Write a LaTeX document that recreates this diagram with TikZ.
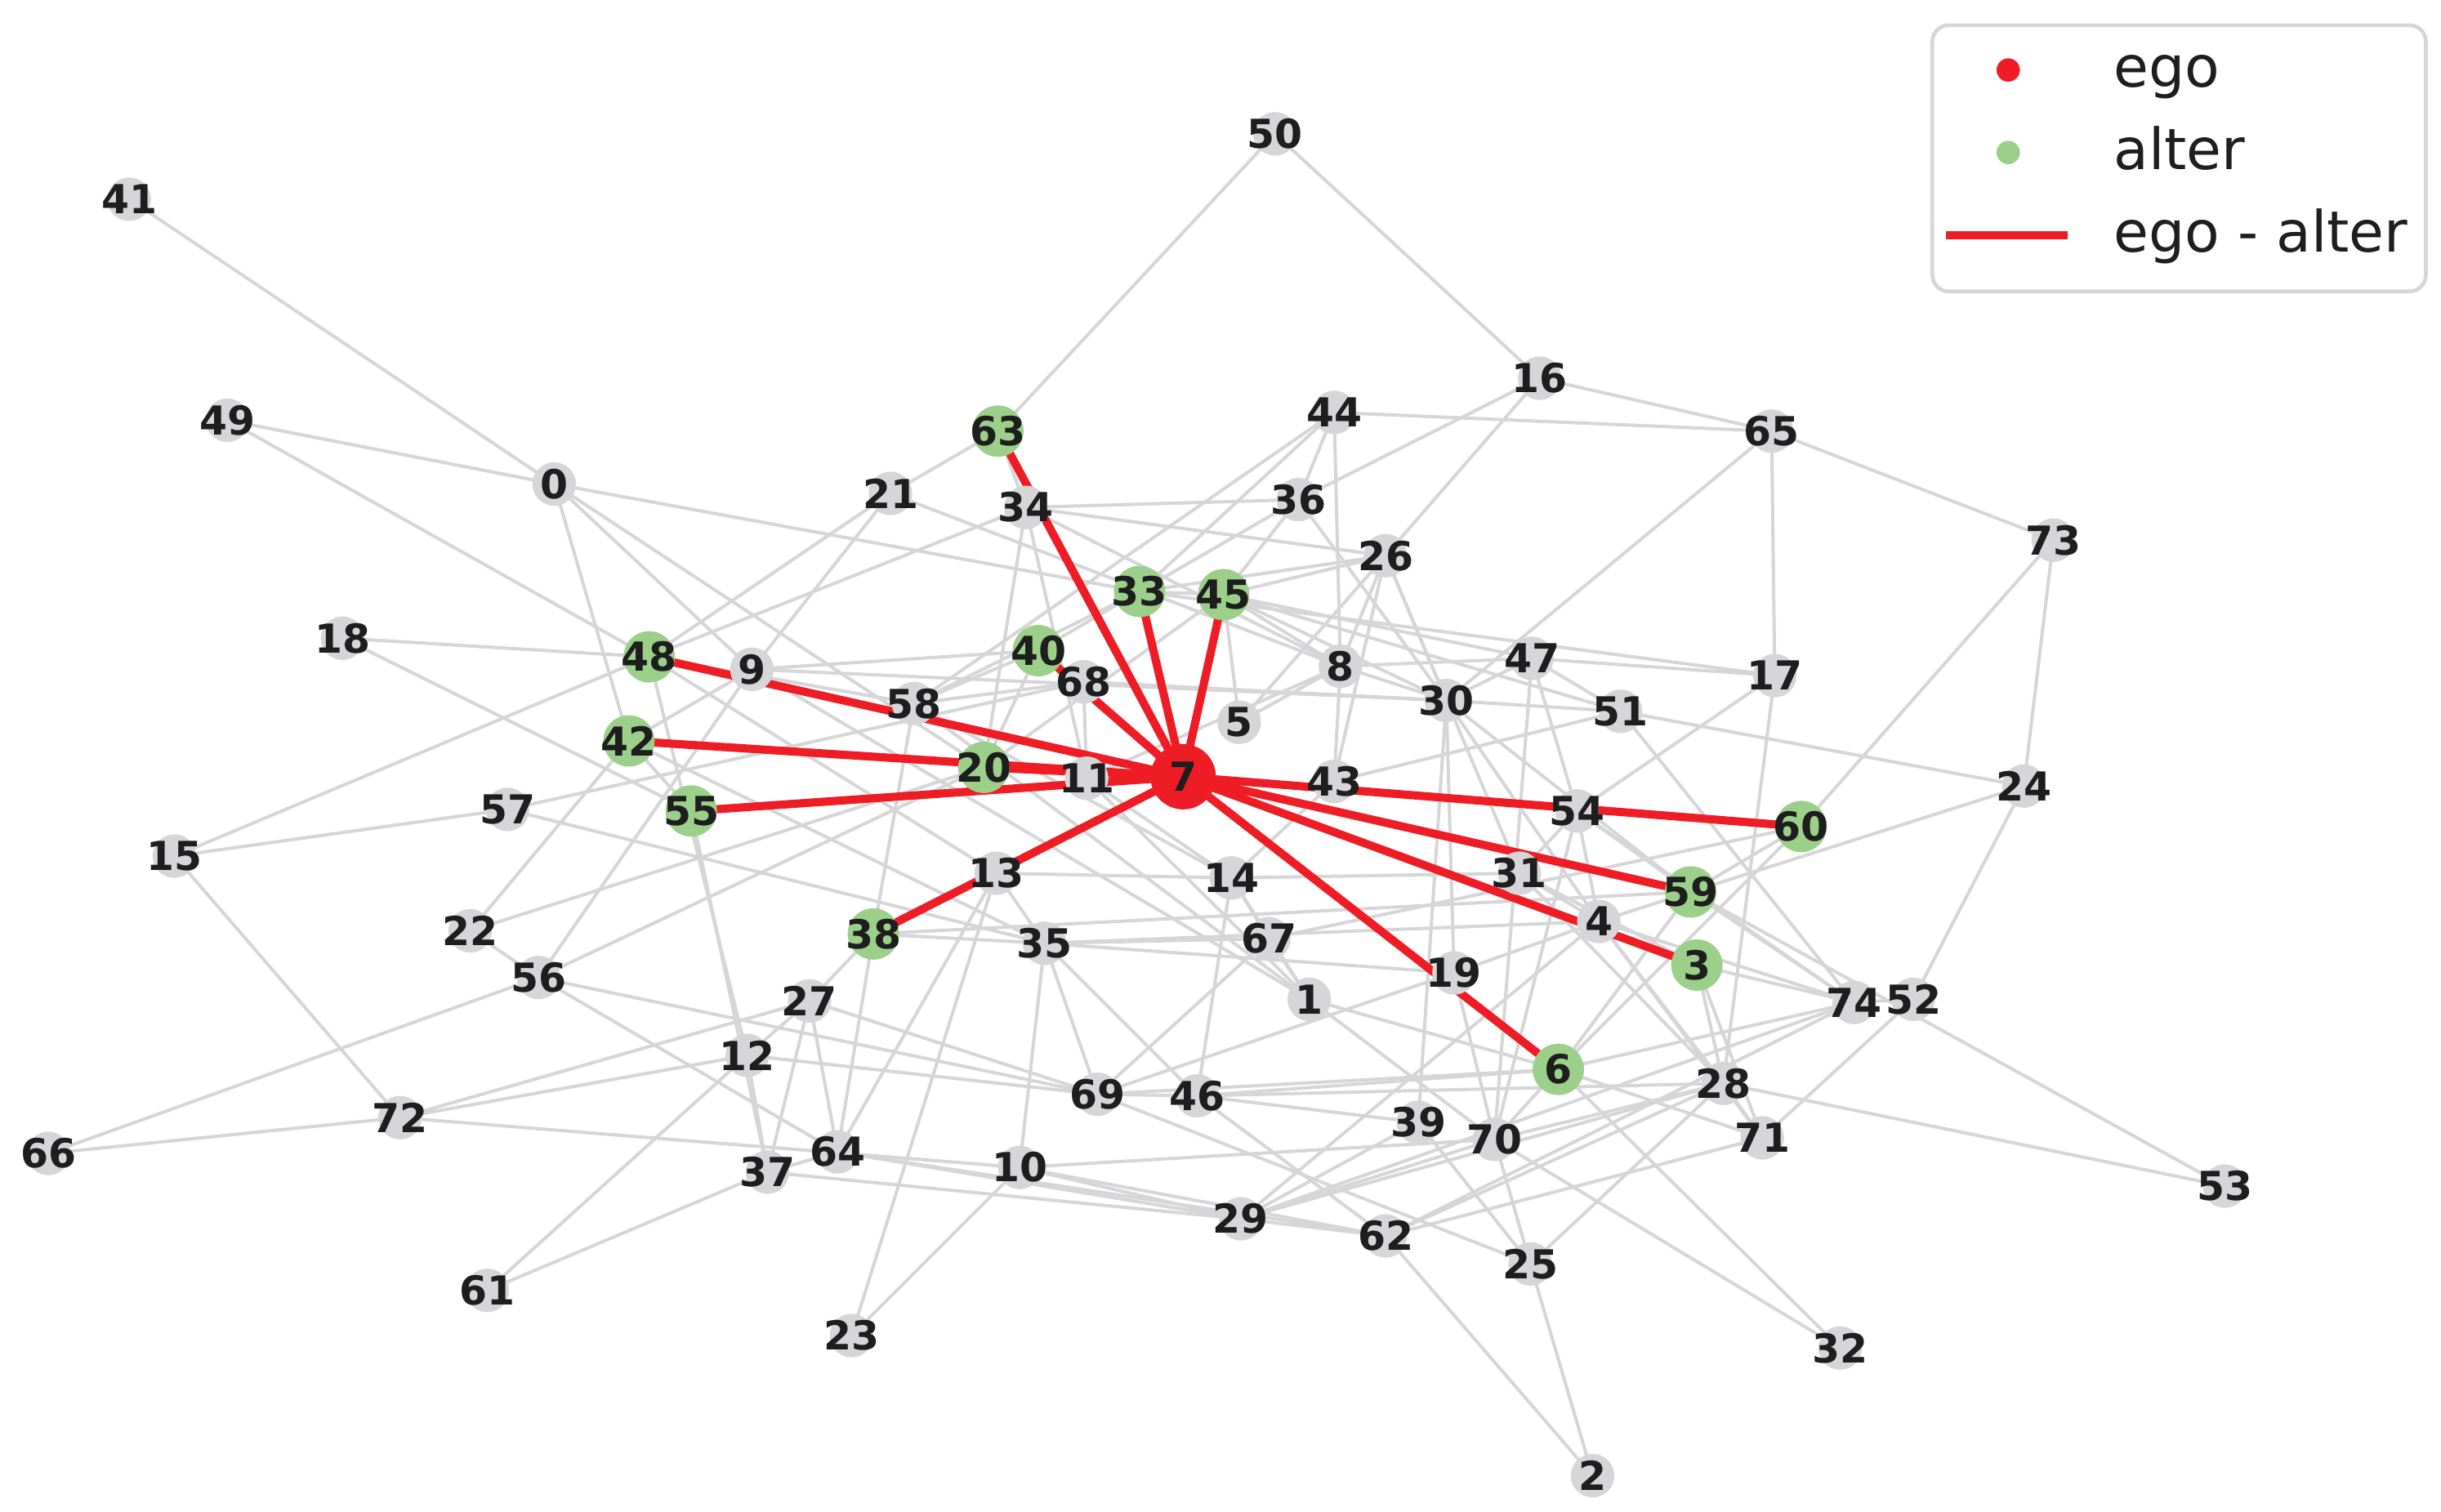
\documentclass[tikz,border=0pt]{standalone}
\usepackage{fontspec}
\setmainfont{DejaVu Sans}
\definecolor{edgegray}{HTML}{D6D6D8}
\definecolor{nodegray}{HTML}{D6D6D8}
\definecolor{egored}{HTML}{EE1D25}
\definecolor{altgreen}{HTML}{9CD08A}
\definecolor{labcol}{HTML}{1E1E1E}
\tikzset{
  gnode/.style={circle,fill=nodegray,minimum size=0.28cm,inner sep=0pt},
  anode/.style={circle,fill=altgreen,minimum size=0.33cm,inner sep=0pt},
  enode/.style={circle,fill=egored,minimum size=0.42cm,inner sep=0pt},
  lab/.style={inner sep=0pt,text=labcol,font=\fontsize{7.3}{7.3}\selectfont\bfseries},
  gedge/.style={draw=edgegray,line width=0.6pt},
  redge/.style={draw=egored,line width=1.5pt},
  legtext/.style={anchor=base west,inner sep=0pt,text=labcol,font=\fontsize{10.4}{10.4}\selectfont},
}
\begin{document}
\begin{tikzpicture}
\useasboundingbox (0,0) rectangle (15.68,9.71);
% node coordinates
\foreach \i/\x/\y in {41/83/128,49/146/270,0/356/311,18/220/410,48/417/422,9/483/430,42/404/476,57/326/520,55/444/521,15/112/550,22/302/598,56/346/628,66/31/741,72/257/718,12/480/678,37/493/753,61/313/829,27/520/643,64/538/740,23/547/858,10/655/750,38/561/600,35/671/606,13/640/561,20/632/493,11/698/500,58/587/452,40/667/418,68/696/438,63/641/277,21/572/317,34/659/326,33/732/380,45/786/382,36/834/321,44/857/265,50/819/86,16/989/243,65/1138/277,73/1319/347,26/890/357,8/861/428,5/796/464,7/760/499,43/857/502,47/984/423,30/929/450,51/1041/457,17/1140/434,24/1300/505,60/1157/531,54/1013/521,31/976/561,59/1086/573,4/1027/592,3/1090/620,14/791/564,67/815/603,1/841/642,19/934/625,74/1191/644,52/1229/642,6/1001/687,28/1107/696,71/1132/731,53/1429/762,69/705/703,46/769/704,39/911/721,70/960/732,29/797/783,62/890/794,25/983/812,32/1182/866,2/1023/948}
  \coordinate (n\i) at ({\x/100},{9.71-\y/100});
% gray edges
\foreach \a/\b in {0/41,0/49,48/49,0/33,0/42,0/9,0/20,18/48,18/55,15/48,15/57,15/72,57/68,57/35,42/22,22/56,22/20,56/9,56/20,56/66,56/69,56/64,66/72,72/27,72/12,72/10,48/21,48/34,48/12,55/37,48/58,48/13,42/35,42/55,42/9,9/21,9/40,9/30,9/1,58/40,58/38,58/68,58/14,58/1,58/44,21/63,21/8,34/63,34/36,34/20,34/11,34/26,34/8,33/45,33/26,33/36,33/44,33/58,33/17,45/26,45/36,45/5,45/8,45/30,45/51,45/47,45/20,40/20,40/33,68/11,68/30,8/5,8/43,8/30,8/26,8/44,8/11,8/47,50/63,50/16,16/65,16/36,16/26,44/65,44/36,36/30,65/73,65/17,65/30,73/24,73/60,24/52,24/51,24/59,17/54,17/47,17/28,26/5,26/43,26/30,26/31,30/51,30/19,30/39,30/59,30/4,47/54,47/51,47/70,47/30,51/43,51/74,43/14,54/59,54/31,54/4,54/74,54/70,31/14,31/4,31/28,31/3,59/74,59/6,59/60,59/4,59/38,53/59,60/6,4/28,4/71,4/19,4/74,4/35,3/74,3/28,3/71,74/52,74/6,74/62,74/29,52/71,28/71,28/53,28/62,28/29,28/25,28/70,28/46,6/70,6/32,6/71,6/69,6/1,6/46,19/70,19/69,19/35,14/67,14/1,14/46,14/13,67/1,67/69,67/35,67/60,1/70,13/35,13/64,13/23,35/10,35/69,35/46,35/38,38/27,38/64,27/12,27/37,27/64,27/69,12/61,12/37,12/69,37/61,37/64,37/29,64/29,64/62,10/29,10/62,10/70,10/23,69/25,69/46,46/39,46/62,29/39,29/70,29/4,29/62,39/25,70/25,70/32,62/2,62/71,25/2,11/1,11/14}
  \draw[gedge] (n\a) -- (n\b);
% ego - alter edges
\foreach \b in {63,33,45,40,48,42,20,55,38,60,59,3,6}
  \draw[redge] (n7) -- (n\b);
% nodes
\foreach \i in {41,49,0,18,9,57,15,22,56,66,72,12,37,61,27,64,23,10,35,13,11,58,68,21,34,36,44,50,16,65,73,26,8,5,43,47,30,51,17,24,54,31,4,14,67,1,19,74,52,28,71,53,69,46,39,70,29,62,25,32,2}
  \node[gnode] (v\i) at (n\i) {};
\foreach \i in {63,33,45,40,48,42,20,55,38,60,59,3,6}
  \node[anode] (v\i) at (n\i) {};
\node[enode] (v7) at (n7) {};
\foreach \i in {41,49,0,18,9,57,15,22,56,66,72,12,37,61,27,64,23,10,35,13,11,58,68,21,34,36,44,50,16,65,73,26,8,5,43,47,30,51,17,24,54,31,4,14,67,1,19,74,52,28,71,53,69,46,39,70,29,62,25,32,2,63,33,45,40,48,42,20,55,38,60,59,3,6,7}
  \node[lab] at (n\i) {\i};
% legend
\node[draw=edgegray,line width=0.7pt,rounded corners=3pt,fill=white,minimum width=3.17cm,minimum height=1.71cm,inner sep=0pt,anchor=north west] (legend) at (12.40,9.56) {};
\node[circle,fill=egored,minimum size=0.15cm,inner sep=0pt] (legego) at (12.90,9.26) {};
\node[circle,fill=altgreen,minimum size=0.15cm,inner sep=0pt] (legalt) at (12.90,8.73) {};
\coordinate (lega) at (12.50,8.20);
\coordinate (legb) at (13.28,8.20);
\draw[redge] (lega) -- (legb);
\node[legtext] (t1) at (13.57,9.15) {ego};
\node[legtext] (t2) at (13.57,8.62) {alter};
\node[legtext] (t3) at (13.57,8.09) {ego - alter};
\end{tikzpicture}
\end{document}
